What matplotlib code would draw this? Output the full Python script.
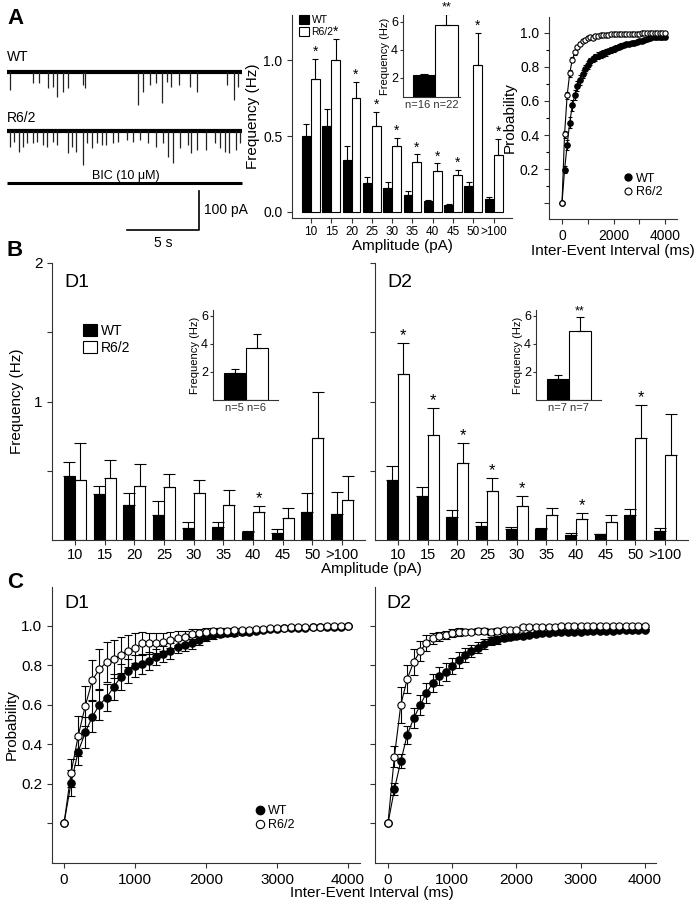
import matplotlib.pyplot as plt
import numpy as np
from matplotlib.lines import Line2D
from matplotlib.patches import Patch

plt.rcParams['font.family'] = ['Liberation Sans', 'DejaVu Sans']

W, H = 696, 906

# ---- Panel A traces: event times (s) and amplitudes (pA) ----
wt_ev_t = [0.21, 1.81, 2.22, 2.85, 3.19, 3.47, 3.89, 4.24, 5.28, 5.42, 9.10, 9.44,
           9.93, 10.35, 10.76, 11.11, 11.39, 11.94, 12.71, 13.19, 15.28, 15.76, 16.04]
wt_ev_amp = [46, 28, 28, 41, 38, 64, 51, 41, 33, 41, 85, 51,
             33, 28, 79, 26, 38, 33, 38, 51, 33, 72, 38]
r6_ev_t = [0.21, 0.49, 0.83, 1.11, 1.39, 1.81, 2.08, 2.50, 2.78, 3.19, 3.47, 4.24,
           4.51, 4.79, 5.28, 5.56, 5.90, 6.25, 6.60, 6.88, 7.36, 7.71,
           8.33, 8.75, 9.24, 9.79, 10.35, 10.83, 11.18, 11.53, 12.01, 12.57,
           12.78, 13.19, 13.82, 14.44, 14.79, 15.14, 15.42, 15.90, 16.18]
r6_ev_amp = [41, 28, 54, 41, 31, 31, 28, 36, 41, 28, 36, 56,
             41, 54, 87, 31, 44, 31, 36, 36, 31, 28,
             23, 28, 23, 31, 41, 31, 67, 82, 44, 36,
             56, 49, 49, 31, 44, 54, 56, 49, 31]
trace_dur = 16.3

# ---- Panel A amplitude histogram ----
amp_labels = ['10', '15', '20', '25', '30', '35', '40', '45', '50', '>100']
a_wt = [0.50, 0.57, 0.34, 0.19, 0.16, 0.11, 0.07, 0.045, 0.17, 0.085]
a_wt_sem = [0.08, 0.11, 0.095, 0.04, 0.04, 0.03, 0.01, 0.005, 0.03, 0.015]
a_r6 = [0.88, 1.00, 0.75, 0.57, 0.435, 0.33, 0.27, 0.245, 0.97, 0.375]
a_r6_sem = [0.13, 0.14, 0.11, 0.09, 0.055, 0.05, 0.05, 0.035, 0.21, 0.105]
a_stars = [0, 1, 2, 3, 4, 5, 6, 7, 8, 9]
a_total = [2.2, 5.8]
a_total_sem = [0.05, 0.8]

# ---- Panel B amplitude histograms (D1 / D2) ----
d1_wt = [0.46, 0.33, 0.25, 0.18, 0.09, 0.094, 0.055, 0.048, 0.20, 0.186]
d1_wt_sem = [0.10, 0.06, 0.09, 0.10, 0.04, 0.036, 0.01, 0.029, 0.14, 0.164]
d1_r6 = [0.43, 0.45, 0.39, 0.38, 0.34, 0.255, 0.20, 0.16, 0.735, 0.29]
d1_r6_sem = [0.27, 0.13, 0.16, 0.10, 0.09, 0.105, 0.045, 0.07, 0.335, 0.17]
d1_stars = [6]
d1_total = [1.93, 3.7]
d1_total_sem = [0.27, 1.0]

d2_wt = [0.434, 0.318, 0.164, 0.10, 0.077, 0.077, 0.036, 0.04, 0.18, 0.067]
d2_wt_sem = [0.10, 0.062, 0.053, 0.03, 0.015, 0.013, 0.012, 0.002, 0.044, 0.017]
d2_r6 = [1.20, 0.76, 0.554, 0.352, 0.248, 0.18, 0.15, 0.133, 0.733, 0.612]
d2_r6_sem = [0.22, 0.19, 0.146, 0.094, 0.068, 0.054, 0.043, 0.047, 0.243, 0.296]
d2_stars = [0, 1, 2, 3, 4, 6, 8]
d2_total = [1.5, 4.9]
d2_total_sem = [0.3, 1.0]

# ---- cumulative inter-event interval (ms) ----
iei = list(range(0, 4001, 100))

a_cum_wt = [0, .195, .342, .473, .574, .637, .686, .725, .76, .787, .813, .833, .847, .858,
            .866, .872, .879, .886, .893, .90, .906, .912, .918, .924, .929, .935, .938,
            .941, .944, .947, .95, .955, .96, .965, .97, .975, .975, .975, .975, .975, .975]
a_cum_wt_sem = [0, .02, .03, .03, .03, .03, .03, .03, .025, .025, .025, .02, .02, .02,
                .02, .02, .02, .02, .015, .015, .015, .015, .015, .015, .01, .01, .01,
                .01, .01, .01, .01, .01, .01, .01, .01, .01, .01, .01, .01, .01, .01]
a_cum_r6 = [0, .405, .633, .764, .843, .886, .917, .937, .95, .96, .97, .976, .972, .982,
            .985, .988, .989, .99, .991, .992, .994, .994, .994, .995, .995, .995, .995,
            .996, .996, .996, .996, .997, .997, .997, .998, .998, .998, .998, .998, .998, .998]
a_cum_r6_sem = [0, .02, .02, .02, .015, .015, .01, .01, .01, .01, .01, .01, .01, .01,
                .005, .005, .005, .005, .005, .005, .005, .005, .005, .005, .005, .005, .005,
                .005, .005, .005, .005, .005, .005, .005, .005, .005, .005, .005, .005, .005, .005]

c1_wt = [0, .206, .363, .46, .54, .60, .636, .69, .74, .772, .796, .806, .823, .84,
         .857, .872, .894, .902, .914, .927, .94, .95, .955, .96, .963, .966, .97,
         .975, .978, .981, .984, .986, .988, .989, .99, .991, .992, .993, .994, .995, .996]
c1_wt_sem = [0, .065, .07, .08, .08, .075, .07, .065, .065, .06, .055, .05, .045, .04,
             .04, .04, .035, .03, .03, .025, .02, .02, .015, .015, .015, .012, .01,
             .01, .01, .01, .01, .008, .008, .008, .008, .006, .006, .006, .005, .005, .005]
c1_r6 = [0, .256, .443, .594, .725, .78, .815, .831, .852, .872, .885, .91, .91, .912,
         .916, .927, .936, .944, .958, .965, .97, .972, .974, .975, .976, .978, .98,
         .982, .984, .986, .988, .99, .991, .992, .993, .994, .995, .996, .997, .998, .999]
c1_r6_sem = [0, .07, .10, .10, .10, .10, .10, .095, .09, .08, .075, .06, .055, .05,
             .045, .04, .035, .03, .025, .02, .02, .015, .015, .012, .01, .01, .01,
             .008, .008, .008, .006, .006, .006, .005, .005, .005, .005, .004, .004, .004, .004]

c2_wt = [0, .172, .315, .448, .531, .597, .66, .71, .746, .766, .796, .826, .852, .871,
         .889, .905, .92, .929, .937, .942, .945, .949, .954, .958, .962, .965, .966,
         .967, .968, .969, .97, .971, .972, .973, .974, .975, .976, .977, .977, .978, .978]
c2_wt_sem = [0, .03, .035, .045, .05, .05, .05, .045, .045, .045, .04, .04, .035, .03,
             .03, .025, .02, .02, .015, .015, .012, .01, .01, .01, .01, .008, .008,
             .008, .008, .008, .008, .006, .006, .006, .006, .006, .006, .005, .005, .005, .005]
c2_r6 = [0, .338, .60, .73, .816, .87, .912, .935, .945, .954, .962, .967, .97, .97,
         .975, .974, .968, .974, .978, .978, .98, .993, .994, .994, .995, .995, .995,
         .996, .996, .996, .997, .997, .998, .997, .998, .998, .998, .998, .998, .998, .998]
c2_r6_sem = [0, .055, .09, .07, .065, .05, .04, .03, .025, .02, .02, .02, .015, .015,
             .015, .015, .015, .015, .012, .012, .01, .008, .008, .008, .006, .006, .006,
             .005, .005, .005, .005, .005, .005, .005, .005, .005, .005, .005, .005, .005, .005]


def px_rect(left, top, right, bottom):
    return [left / W, 1 - bottom / H, (right - left) / W, (bottom - top) / H]


def ftext(x, y, s, **kw):
    fig.text(x / W, 1 - y / H, s, **kw)


def clean(ax):
    ax.spines['top'].set_visible(False)
    ax.spines['right'].set_visible(False)
    ax.tick_params(direction='out', length=3.5, width=0.8, color='#333333')
    for sp in ax.spines.values():
        sp.set_linewidth(0.8)
        sp.set_color('#333333')


def bar_legend(ax, anchor, fs):
    handles = [Patch(facecolor='black', edgecolor='black', lw=0.8),
               Patch(facecolor='white', edgecolor='black', lw=0.8)]
    ax.legend(handles, ['WT', 'R6/2'], loc='upper left', bbox_to_anchor=anchor,
              frameon=False, fontsize=fs, handlelength=1.0, handleheight=0.9,
              handletextpad=0.25, labelspacing=0.2, borderaxespad=0, borderpad=0)


def dot_legend(ax, anchor, fs, ms):
    handles = [Line2D([], [], ls='none', marker='o', mfc='black', mec='black', ms=ms),
               Line2D([], [], ls='none', marker='o', mfc='white', mec='black', ms=ms,
                      mew=0.8)]
    ax.legend(handles, ['WT', 'R6/2'], loc='upper left', bbox_to_anchor=anchor,
              frameon=False, fontsize=fs, handlelength=0.7, handletextpad=0.3,
              labelspacing=0.15, borderaxespad=0, borderpad=0)


def amp_bars(ax, wt, wt_sem, r6, r6_sem, stars, width, cap, fs_star):
    x = np.arange(len(amp_labels))
    ax.bar(x - width / 2, wt, width, color='black', edgecolor='black', lw=0.8)
    ax.bar(x + width / 2, r6, width, color='white', edgecolor='black', lw=0.8)
    ax.errorbar(x - width / 2, wt, yerr=[np.zeros(len(wt)), wt_sem], fmt='none',
                ecolor='black', elinewidth=0.8, capsize=cap, capthick=0.8)
    ax.errorbar(x + width / 2, r6, yerr=[np.zeros(len(r6)), r6_sem], fmt='none',
                ecolor='black', elinewidth=0.8, capsize=cap, capthick=0.8)
    for i in stars:
        ax.text(x[i] + width / 2, r6[i] + r6_sem[i], '*', ha='center', va='bottom',
                fontsize=fs_star)
    ax.set_xticks(x)
    ax.set_xticklabels(amp_labels)
    ax.tick_params(axis='x', length=0)
    clean(ax)


def total_inset(ax, vals, sems, ns, star):
    ax.bar([0, 1], vals, 1.0, color=['black', 'white'], edgecolor='black', lw=0.8)
    ax.errorbar([0, 1], vals, yerr=[[0, 0], sems], fmt='none', ecolor='black',
                elinewidth=0.8, capsize=3, capthick=0.8)
    if star:
        ax.text(1, vals[1] + sems[1], star, ha='center', va='bottom', fontsize=9)
    ax.set_yticks([2, 4, 6])
    ax.set_xticks([])
    ax.set_ylabel('Frequency (Hz)', fontsize=8, labelpad=1)
    ax.tick_params(axis='y', labelsize=9, pad=1)
    ax.set_xlabel('n=%d n=%d' % tuple(ns), fontsize=8, labelpad=2, color='#333333')
    clean(ax)
    ax.tick_params(length=2.5)


def cum_panel(ax, wt, wt_sem, r6, r6_sem, ms, cap):
    ax.errorbar(iei, wt, yerr=wt_sem, fmt='-o', color='black', mfc='black', mec='black',
                ms=ms, lw=0.8, elinewidth=0.8, capsize=cap, capthick=0.8)
    ax.errorbar(iei, r6, yerr=r6_sem, fmt='-o', color='black', mfc='white', mec='black',
                ms=ms, lw=0.8, elinewidth=0.8, mew=0.8, capsize=cap, capthick=0.8)
    clean(ax)


fig = plt.figure(figsize=(W / 100, H / 100), dpi=100)

# ---------------- A: traces ----------------
ax_tr = fig.add_axes(px_rect(0, 40, 250, 250))
ax_tr.set_xlim(-7 / 14.4, 243 / 14.4)
ax_tr.set_ylim(-178 / 0.39, 32 / 0.39)
ax_tr.axis('off')
offsets = {'WT': 0.0, 'R6/2': -151.3, 'BIC': -284.6}
for name, ev_t, ev_amp in [('WT', wt_ev_t, wt_ev_amp), ('R6/2', r6_ev_t, r6_ev_amp),
                           ('BIC', [], [])]:
    off = offsets[name]
    ax_tr.plot([0, trace_dur], [off, off], color='black', lw=3.0 if name != 'BIC' else 2.2,
               solid_capstyle='butt')
    if ev_t:
        ax_tr.vlines(ev_t, off, off - np.array(ev_amp), color='#222222', lw=0.9)
# scale bar: 5 s, 100 pA
sb_y = -405
ax_tr.plot([8.33, 13.33, 13.33], [sb_y, sb_y, sb_y + 100], color='black', lw=1.2)
ftext(7, 57, 'WT', fontsize=10, va='center')
ftext(7, 118, 'R6/2', fontsize=10, va='center')
ftext(126, 176, 'BIC (10 \u03bcM)', fontsize=9, ha='center', va='center')
ftext(204, 210, '100 pA', fontsize=10, va='center')
ftext(163, 243, '5 s', fontsize=10, ha='center', va='center')

# ---------------- A: amplitude histogram ----------------
ax_a = fig.add_axes(px_rect(292, 15, 512, 218))
amp_bars(ax_a, a_wt, a_wt_sem, a_r6, a_r6_sem, a_stars, 0.44, 2.5, 10)
ax_a.set_xlim(-0.93, 9.9)
ax_a.set_ylim(-0.04, 1.3)
ax_a.set_yticks([0.0, 0.5, 1.0])
ax_a.set_yticklabels(['0.0', '0.5', '1.0'])
ax_a.tick_params(axis='y', labelsize=10)
ax_a.tick_params(axis='x', labelsize=8.5, pad=2)
ax_a.set_ylabel('Frequency (Hz)', fontsize=11, labelpad=2)
ax_a.set_xlabel('Amplitude (pA)', fontsize=11, labelpad=1)
bar_legend(ax_a, (0.03, 1.0), 7.5)

ax_ai = fig.add_axes(px_rect(403, 15, 460, 97))
total_inset(ax_ai, a_total, a_total_sem, (16, 22), '**')
ax_ai.set_xlim(-0.93, 1.6)
ax_ai.set_ylim(0.64, 6.5)

# ---------------- A: cumulative ----------------
ax_ac = fig.add_axes(px_rect(549, 17, 677, 219))
cum_panel(ax_ac, a_cum_wt, a_cum_wt_sem, a_cum_r6, a_cum_r6_sem, 3.8, 1.5)
ax_ac.set_xlim(-505, 4466)
ax_ac.set_ylim(-0.094, 1.094)
ax_ac.set_yticks([0.0, 0.2, 0.4, 0.6, 0.8, 1.0])
ax_ac.set_yticklabels(['', '0.2', '0.4', '0.6', '0.8', '1.0'])
ax_ac.set_yticks([0.1, 0.3, 0.5, 0.7, 0.9], minor=True)
ax_ac.set_xticks([0, 1000, 2000, 3000, 4000])
ax_ac.set_xticklabels(['0', '', '2000', '', '4000'])
ax_ac.tick_params(labelsize=10)
ax_ac.tick_params(which='minor', direction='out', length=2, width=0.8)
ax_ac.set_ylabel('Probability', fontsize=11, labelpad=2)
ax_ac.set_xlabel('Inter-Event Interval (ms)', fontsize=11, labelpad=1)
dot_legend(ax_ac, (0.58, 0.23), 9, 5)

# ---------------- B: D1 / D2 histograms ----------------
for rect, wt, wt_sem, r6, r6_sem, stars, tag in [
        ((52, 263, 365, 540), d1_wt, d1_wt_sem, d1_r6, d1_r6_sem, d1_stars, 'D1'),
        ((375, 263, 688, 540), d2_wt, d2_wt_sem, d2_r6, d2_r6_sem, d2_stars, 'D2')]:
    ax = fig.add_axes(px_rect(*rect))
    amp_bars(ax, wt, wt_sem, r6, r6_sem, stars, 0.37, 4, 12)
    ax.set_xlim(-0.77, 9.77)
    ax.set_ylim(0, 2)
    ax.set_yticks([0.5, 1.0, 1.5, 2.0])
    ax.tick_params(axis='x', labelsize=10.5, pad=2)
    ax.tick_params(axis='y', labelsize=11)
    ax.text(0.04, 0.96, tag, transform=ax.transAxes, fontsize=14, va='top')
    if tag == 'D1':
        ax.set_yticklabels(['', '1', '', '2'])
        ax.set_ylabel('Frequency (Hz)', fontsize=11, labelpad=7)
        bar_legend(ax, (0.1, 0.78), 10)
    else:
        ax.set_yticklabels([])
ftext(371, 569, 'Amplitude (pA)', fontsize=11, ha='center', va='center')

ax_d1i = fig.add_axes(px_rect(213, 310, 278, 400))
total_inset(ax_d1i, d1_total, d1_total_sem, (5, 6), None)
ax_d1i.set_xlim(-1.0, 1.95)
ax_d1i.set_ylim(0, 6.4)

ax_d2i = fig.add_axes(px_rect(536, 310, 601, 400))
total_inset(ax_d2i, d2_total, d2_total_sem, (7, 7), '**')
ax_d2i.set_xlim(-1.0, 1.95)
ax_d2i.set_ylim(0, 6.4)

# ---------------- C: cumulative D1 / D2 ----------------
ax_c1 = fig.add_axes(px_rect(52, 587, 360, 863))
cum_panel(ax_c1, c1_wt, c1_wt_sem, c1_r6, c1_r6_sem, 5.2, 3)
ax_c1.set_xlim(-169, 4169)
ax_c2 = fig.add_axes(px_rect(375, 587, 656, 863))
cum_panel(ax_c2, c2_wt, c2_wt_sem, c2_r6, c2_r6_sem, 5.2, 3)
ax_c2.set_xlim(-202, 4174)
for ax, tag in [(ax_c1, 'D1'), (ax_c2, 'D2')]:
    ax.set_ylim(-0.2, 1.195)
    ax.set_yticks([0.0, 0.2, 0.4, 0.6, 0.8, 1.0])
    ax.set_xticks([0, 1000, 2000, 3000, 4000])
    ax.tick_params(labelsize=11)
    ax.text(0.04, 0.97, tag, transform=ax.transAxes, fontsize=14, va='top')
ax_c1.set_yticklabels(['', '0.2', '0.4', '0.6', '0.8', '1.0'])
ax_c2.set_yticklabels([])
ax_c1.set_ylabel('Probability', fontsize=11, labelpad=2)
dot_legend(ax_c1, (0.66, 0.21), 9, 6)
ftext(372, 893, 'Inter-Event Interval (ms)', fontsize=11, ha='center', va='center')

# panel letters
ftext(7, 18, 'A', fontsize=16, fontweight='bold', va='center')
ftext(7, 250, 'B', fontsize=16, fontweight='bold', va='center')
ftext(7, 582, 'C', fontsize=16, fontweight='bold', va='center')

fig.savefig('out.png', dpi=100)
plt.close(fig)
